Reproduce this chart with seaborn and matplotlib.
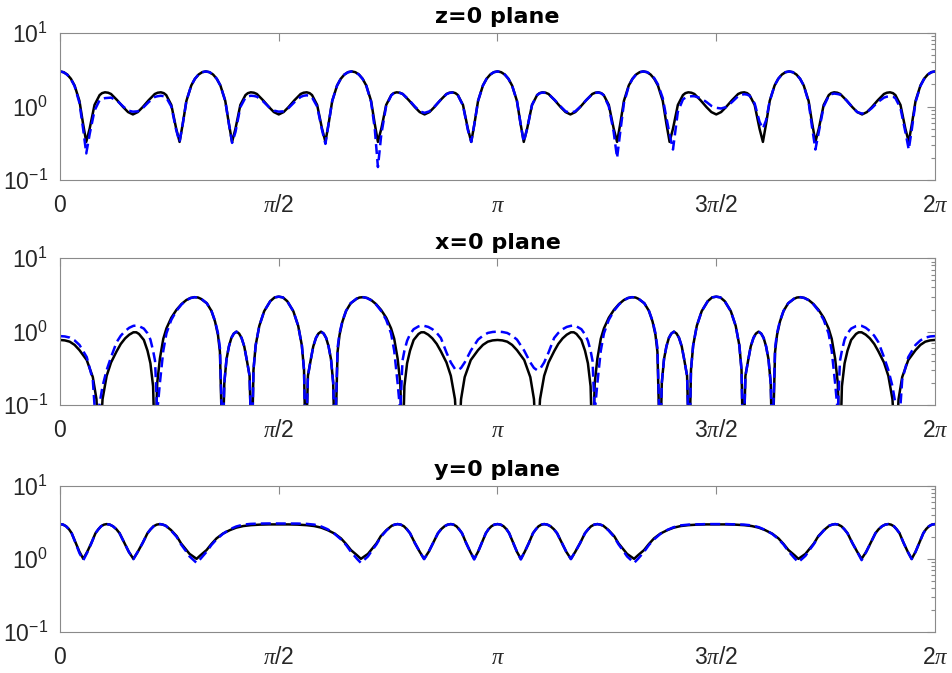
import numpy as np
import pandas as pd
import matplotlib
matplotlib.use("Agg")
import matplotlib.pyplot as plt
import seaborn as sns
from matplotlib.ticker import FixedLocator, LogLocator, NullFormatter, LogFormatterSciNotation

# ---------------- data (angles in degrees) ----------------
z0_deg = [0, 1.5, 3, 4.5, 6, 8, 9.5, 10.8, 12.2, 14.2, 16.3, 17.3, 18.5, 19.8, 21, 23.5, 26, 28, 30, 32, 34, 36.5, 39, 40.2, 41.5, 42.7, 43.7, 45.8, 47.8, 49.2, 50.5, 52, 54, 55.5, 57, 58.5,
          60, 61.5, 63, 64.5, 66, 68, 69.5, 70.8, 72.2, 74.2, 76.3, 77.3, 78.5, 79.8, 81, 83.5, 86, 88, 90, 92, 94, 96.5, 99, 100.2, 101.5, 102.7, 103.7, 105.8, 107.8, 109.2, 110.5, 112, 114, 115.5, 117, 118.5,
          120, 121.5, 123, 124.5, 126, 128, 129.5, 130.8, 132.2, 134.2, 136.3, 137.3, 138.5, 139.8, 141, 143.5, 146, 148, 150, 152, 154, 156.5, 159, 160.2, 161.5, 162.7, 163.7, 165.8, 167.8, 169.2, 170.5, 172, 174, 175.5, 177, 178.5,
          180, 181.5, 183, 184.5, 186, 188, 189.5, 190.8, 192.2, 194.2, 196.3, 197.3, 198.5, 199.8, 201, 203.5, 206, 208, 210, 212, 214, 216.5, 219, 220.2, 221.5, 222.7, 223.7, 225.8, 227.8, 229.2, 230.5, 232, 234, 235.5, 237, 238.5,
          240, 241.5, 243, 244.5, 246, 248, 249.5, 250.8, 252.2, 254.2, 256.3, 257.3, 258.5, 259.8, 261, 263.5, 266, 268, 270, 272, 274, 276.5, 279, 280.2, 281.5, 282.7, 283.7, 285.8, 287.8, 289.2, 290.5, 292, 294, 295.5, 297, 298.5,
          300, 301.5, 303, 304.5, 306, 308, 309.5, 310.8, 312.2, 314.2, 316.3, 317.3, 318.5, 319.8, 321, 323.5, 326, 328, 330, 332, 334, 336.5, 339, 340.2, 341.5, 342.7, 343.7, 345.8, 347.8, 349.2, 350.5, 352, 354, 355.5, 357, 358.5, 360]
z0_black = [3.0, 2.93, 2.72, 2.38, 1.93, 1.19, 0.58, 0.33, 0.5, 1.05, 1.43, 1.52, 1.56, 1.54, 1.48, 1.22, 0.98, 0.84, 0.78, 0.84, 0.98, 1.22, 1.48, 1.54, 1.56, 1.52, 1.43, 1.05, 0.5, 0.33, 0.58, 1.19, 1.93, 2.38, 2.72, 2.93,
            3.0, 2.93, 2.72, 2.38, 1.93, 1.19, 0.58, 0.33, 0.5, 1.05, 1.43, 1.52, 1.56, 1.54, 1.48, 1.22, 0.98, 0.84, 0.78, 0.84, 0.98, 1.22, 1.48, 1.54, 1.56, 1.52, 1.43, 1.05, 0.5, 0.33, 0.58, 1.19, 1.93, 2.38, 2.72, 2.93,
            3.0, 2.93, 2.72, 2.38, 1.93, 1.19, 0.58, 0.33, 0.5, 1.05, 1.43, 1.52, 1.56, 1.54, 1.48, 1.22, 0.98, 0.84, 0.78, 0.84, 0.98, 1.22, 1.48, 1.54, 1.56, 1.52, 1.43, 1.05, 0.5, 0.33, 0.58, 1.19, 1.93, 2.38, 2.72, 2.93,
            3.0, 2.93, 2.72, 2.38, 1.93, 1.19, 0.58, 0.33, 0.5, 1.05, 1.43, 1.52, 1.56, 1.54, 1.48, 1.22, 0.98, 0.84, 0.78, 0.84, 0.98, 1.22, 1.48, 1.54, 1.56, 1.52, 1.43, 1.05, 0.5, 0.33, 0.58, 1.19, 1.93, 2.38, 2.72, 2.93,
            3.0, 2.93, 2.72, 2.38, 1.93, 1.19, 0.58, 0.33, 0.5, 1.05, 1.43, 1.52, 1.56, 1.54, 1.48, 1.22, 0.98, 0.84, 0.78, 0.84, 0.98, 1.22, 1.48, 1.54, 1.56, 1.52, 1.43, 1.05, 0.5, 0.33, 0.58, 1.19, 1.93, 2.38, 2.72, 2.93,
            3.0, 2.93, 2.72, 2.38, 1.93, 1.19, 0.58, 0.33, 0.5, 1.05, 1.43, 1.52, 1.56, 1.54, 1.48, 1.22, 0.98, 0.84, 0.78, 0.84, 0.98, 1.22, 1.48, 1.54, 1.56, 1.52, 1.43, 1.05, 0.5, 0.33, 0.58, 1.19, 1.93, 2.38, 2.72, 2.93, 3.0]
z0_blue = [3.0, 2.92, 2.7, 2.35, 1.9, 1.12, 0.5, 0.23, 0.42, 0.88, 1.22, 1.27, 1.3, 1.31, 1.32, 1.2, 1.0, 0.88, 0.85, 0.86, 0.95, 1.15, 1.35, 1.38, 1.4, 1.38, 1.33, 1.0, 0.48, 0.33, 0.58, 1.19, 1.93, 2.38, 2.72, 2.93,
           3.0, 2.93, 2.72, 2.38, 1.93, 1.19, 0.58, 0.32, 0.45, 0.98, 1.32, 1.37, 1.4, 1.39, 1.36, 1.18, 0.98, 0.88, 0.85, 0.86, 0.95, 1.15, 1.35, 1.4, 1.42, 1.4, 1.33, 1.0, 0.48, 0.31, 0.58, 1.19, 1.93, 2.38, 2.72, 2.93,
           3.0, 2.93, 2.72, 2.38, 1.93, 1.15, 0.5, 0.15, 0.42, 1.02, 1.42, 1.51, 1.55, 1.53, 1.48, 1.24, 1.0, 0.86, 0.82, 0.86, 0.99, 1.22, 1.47, 1.53, 1.55, 1.51, 1.42, 1.03, 0.48, 0.33, 0.58, 1.19, 1.93, 2.38, 2.72, 2.93,
           3.0, 2.93, 2.72, 2.38, 1.93, 1.19, 0.58, 0.33, 0.5, 1.05, 1.43, 1.51, 1.55, 1.53, 1.47, 1.23, 1.0, 0.86, 0.82, 0.86, 0.99, 1.22, 1.47, 1.53, 1.55, 1.51, 1.42, 1.0, 0.45, 0.2, 0.45, 1.1, 1.9, 2.36, 2.72, 2.93,
           3.0, 2.94, 2.75, 2.43, 2.0, 1.3, 0.7, 0.42, 0.26, 0.85, 1.25, 1.32, 1.36, 1.38, 1.38, 1.3, 1.15, 1.02, 0.96, 0.94, 0.98, 1.15, 1.38, 1.44, 1.47, 1.45, 1.4, 1.1, 0.62, 0.5, 0.65, 1.19, 1.93, 2.38, 2.72, 2.93,
           3.0, 2.93, 2.72, 2.38, 1.93, 1.15, 0.5, 0.26, 0.45, 1.0, 1.4, 1.47, 1.5, 1.48, 1.45, 1.22, 0.98, 0.84, 0.8, 0.84, 0.95, 1.15, 1.32, 1.36, 1.38, 1.36, 1.3, 0.95, 0.45, 0.26, 0.5, 1.15, 1.9, 2.36, 2.72, 2.93, 3.0]

x0_deg = [0, 2, 4, 6, 8, 11, 13.5, 15, 16.2, 17.5, 19.2, 21, 23.3, 25, 26.8, 28.5, 30.2, 31.4, 32.5, 34.5, 36, 37.2, 38.3, 39.1, 40, 41.1, 42.5, 43.8, 45.8, 47.9, 50, 52, 53.7, 55.3, 56.8, 58, 60.4, 62.3, 63.8, 65, 65.8, 66.9, 67.6, 68.5, 69.5, 70.5, 71.5, 72.6, 73.7, 74.7, 75.8, 76.8, 78, 78.9, 79.6, 80.5, 82, 84, 86.5, 88.3, 90,
          91.7, 93.5, 96, 98, 99.5, 100.4, 101.1, 102, 103.2, 104.2, 105.3, 106.3, 107.4, 108.5, 109.5, 110.5, 111.5, 112.4, 113.1, 114.2, 115, 116.2, 117.7, 119.6, 122, 123.2, 124.7, 126.3, 128, 130, 132.1, 134.2, 136.2, 137.5, 138.9, 140, 140.9, 141.7, 142.8, 144, 145.5, 147.5, 148.6, 149.8, 151.5, 153.2, 155, 156.7, 159, 160.8, 162.5, 163.8, 165, 166.5, 169, 172, 174, 176, 178, 180,
          182, 184, 186, 188, 191, 193.5, 195, 196.2, 197.5, 199.2, 201, 203.3, 205, 206.8, 208.5, 210.2, 211.4, 212.5, 214.5, 216, 217.2, 218.3, 219.1, 220, 221.1, 222.5, 223.8, 225.8, 227.9, 230, 232, 233.7, 235.3, 236.8, 238, 240.4, 242.3, 243.8, 245, 245.8, 246.9, 247.6, 248.5, 249.5, 250.5, 251.5, 252.6, 253.7, 254.7, 255.8, 256.8, 258, 258.9, 259.6, 260.5, 262, 264, 266.5, 268.3, 270,
          271.7, 273.5, 276, 278, 279.5, 280.4, 281.1, 282, 283.2, 284.2, 285.3, 286.3, 287.4, 288.5, 289.5, 290.5, 291.5, 292.4, 293.1, 294.2, 295, 296.2, 297.7, 299.6, 302, 303.2, 304.7, 306.3, 308, 310, 312.1, 314.2, 316.2, 317.5, 318.9, 320, 320.9, 321.7, 322.8, 324, 325.5, 327.5, 328.6, 329.8, 331.5, 333.2, 335, 336.7, 339, 340.8, 342.5, 343.8, 345, 346.5, 349, 352, 354, 356, 358, 360]
x0_black = [0.77, 0.76, 0.73, 0.66, 0.56, 0.41, 0.24, 0.12, 0.02, 0.12, 0.25, 0.38, 0.54, 0.68, 0.81, 0.91, 0.98, 0.98, 0.93, 0.77, 0.55, 0.37, 0.18, 0.02, 0.2, 0.43, 0.8, 1.11, 1.55, 1.98, 2.38, 2.7, 2.88, 2.95, 2.92, 2.8, 2.44, 1.92, 1.37, 0.9, 0.53, 0.02, 0.2, 0.42, 0.63, 0.82, 0.94, 1.0, 0.94, 0.82, 0.63, 0.42, 0.25, 0.02, 0.3, 0.65, 1.2, 1.9, 2.6, 2.93, 3.0,
            2.93, 2.6, 1.9, 1.2, 0.65, 0.3, 0.02, 0.25, 0.42, 0.63, 0.82, 0.94, 1.0, 0.94, 0.82, 0.63, 0.42, 0.2, 0.02, 0.53, 0.9, 1.37, 1.92, 2.44, 2.8, 2.92, 2.95, 2.88, 2.7, 2.38, 1.98, 1.55, 1.11, 0.8, 0.43, 0.2, 0.02, 0.18, 0.37, 0.55, 0.77, 0.93, 0.98, 0.98, 0.91, 0.81, 0.68, 0.54, 0.38, 0.25, 0.12, 0.02, 0.12, 0.24, 0.41, 0.56, 0.66, 0.73, 0.76, 0.77,
            0.76, 0.73, 0.66, 0.56, 0.41, 0.24, 0.12, 0.02, 0.12, 0.25, 0.38, 0.54, 0.68, 0.81, 0.91, 0.98, 0.98, 0.93, 0.77, 0.55, 0.37, 0.18, 0.02, 0.2, 0.43, 0.8, 1.11, 1.55, 1.98, 2.38, 2.7, 2.88, 2.95, 2.92, 2.8, 2.44, 1.92, 1.37, 0.9, 0.53, 0.02, 0.2, 0.42, 0.63, 0.82, 0.94, 1.0, 0.94, 0.82, 0.63, 0.42, 0.25, 0.02, 0.3, 0.65, 1.2, 1.9, 2.6, 2.93, 3.0,
            2.93, 2.6, 1.9, 1.2, 0.65, 0.3, 0.02, 0.25, 0.42, 0.63, 0.82, 0.94, 1.0, 0.94, 0.82, 0.63, 0.42, 0.2, 0.02, 0.53, 0.9, 1.37, 1.92, 2.44, 2.8, 2.92, 2.95, 2.88, 2.7, 2.38, 1.98, 1.55, 1.11, 0.8, 0.43, 0.2, 0.02, 0.18, 0.37, 0.55, 0.77, 0.93, 0.98, 0.98, 0.91, 0.81, 0.68, 0.54, 0.38, 0.25, 0.12, 0.02, 0.12, 0.24, 0.41, 0.56, 0.66, 0.73, 0.76, 0.77]
x0_blue = [0.87, 0.86, 0.83, 0.76, 0.66, 0.45, 0.22, 0.04, 0.1, 0.18, 0.3, 0.45, 0.72, 0.88, 1.02, 1.13, 1.2, 1.21, 1.19, 1.1, 0.95, 0.78, 0.55, 0.4, 0.08, 0.2, 0.55, 0.95, 1.45, 1.92, 2.35, 2.68, 2.87, 2.95, 2.93, 2.82, 2.44, 1.92, 1.4, 0.95, 0.6, 0.03, 0.2, 0.42, 0.63, 0.82, 0.94, 1.0, 0.94, 0.82, 0.63, 0.42, 0.25, 0.02, 0.3, 0.65, 1.2, 1.9, 2.6, 2.93, 3.0,
           2.93, 2.6, 1.9, 1.2, 0.65, 0.3, 0.02, 0.25, 0.42, 0.63, 0.82, 0.94, 1.0, 0.94, 0.82, 0.63, 0.42, 0.2, 0.03, 0.6, 0.95, 1.4, 1.92, 2.44, 2.82, 2.93, 2.95, 2.87, 2.68, 2.35, 1.92, 1.45, 0.95, 0.55, 0.2, 0.08, 0.4, 0.55, 0.75, 0.92, 1.08, 1.18, 1.21, 1.2, 1.16, 1.08, 0.96, 0.82, 0.52, 0.38, 0.31, 0.3, 0.32, 0.38, 0.55, 0.78, 0.88, 0.96, 0.99, 1.0,
           0.99, 0.96, 0.88, 0.78, 0.55, 0.38, 0.32, 0.3, 0.31, 0.38, 0.52, 0.82, 0.96, 1.08, 1.16, 1.2, 1.21, 1.18, 1.08, 0.92, 0.75, 0.55, 0.4, 0.08, 0.2, 0.55, 0.95, 1.45, 1.92, 2.35, 2.68, 2.87, 2.95, 2.93, 2.82, 2.44, 1.92, 1.4, 0.95, 0.6, 0.03, 0.2, 0.42, 0.63, 0.82, 0.94, 1.0, 0.94, 0.82, 0.63, 0.42, 0.25, 0.02, 0.3, 0.65, 1.2, 1.9, 2.6, 2.93, 3.0,
           2.93, 2.6, 1.9, 1.2, 0.65, 0.3, 0.02, 0.25, 0.42, 0.63, 0.82, 0.94, 1.0, 0.94, 0.82, 0.63, 0.42, 0.2, 0.03, 0.6, 0.95, 1.4, 1.92, 2.44, 2.82, 2.93, 2.95, 2.87, 2.68, 2.35, 1.92, 1.45, 0.95, 0.55, 0.2, 0.08, 0.4, 0.55, 0.78, 0.95, 1.1, 1.19, 1.21, 1.2, 1.13, 1.02, 0.88, 0.72, 0.45, 0.3, 0.18, 0.1, 0.04, 0.22, 0.45, 0.66, 0.76, 0.83, 0.86, 0.87]

y0_deg = [0, 1.3, 2.5, 3.7, 4.8, 6.5, 8, 9.6, 11.2, 12.9, 14.6, 15.8, 16.9, 18.1, 19.2, 20.5, 21.8, 23.2, 24.5, 26.5, 28.3, 30.2, 32, 34, 36, 37.3, 38.5, 39.8, 41.1, 42.3, 43.5, 45.7, 48, 49.8, 51.8, 53.3, 56.2, 57.8, 60.3, 62.3, 64.4, 67, 69.9, 72.5, 75.4, 78.5, 82.3, 86, 90,
          94, 97.7, 101.5, 104.6, 107.5, 110.1, 113, 115.6, 117.7, 119.7, 122.2, 123.8, 126.7, 128.2, 130.2, 132, 134.3, 136.5, 137.7, 138.9, 140.2, 141.5, 142.7, 144, 146, 148, 149.8, 151.7, 153.5, 155.5, 156.8, 158.2, 159.5, 160.8, 161.9, 163.1, 164.2, 165.4, 167.1, 168.8, 170.4, 172, 173.5, 175.2, 176.3, 177.5, 178.7, 180,
          181.3, 182.5, 183.7, 184.8, 186.5, 188, 189.6, 191.2, 192.9, 194.6, 195.8, 196.9, 198.1, 199.2, 200.5, 201.8, 203.2, 204.5, 206.5, 208.3, 210.2, 212, 214, 216, 217.3, 218.5, 219.8, 221.1, 222.3, 223.5, 225.7, 228, 229.8, 231.8, 233.3, 236.2, 237.8, 240.3, 242.3, 244.4, 247, 249.9, 252.5, 255.4, 258.5, 262.3, 266, 270,
          274, 277.7, 281.5, 284.6, 287.5, 290.1, 293, 295.6, 297.7, 299.7, 302.2, 303.8, 306.7, 308.2, 310.2, 312, 314.3, 316.5, 317.7, 318.9, 320.2, 321.5, 322.7, 324, 326, 328, 329.8, 331.7, 333.5, 335.5, 336.8, 338.2, 339.5, 340.8, 341.9, 343.1, 344.2, 345.4, 347.1, 348.8, 350.4, 352, 353.5, 355.2, 356.3, 357.5, 358.7, 360]
y0_black = [3.0, 2.95, 2.8, 2.55, 2.25, 1.65, 1.25, 1.0, 1.25, 1.65, 2.25, 2.55, 2.8, 2.95, 3.0, 2.95, 2.8, 2.55, 2.25, 1.65, 1.25, 1.0, 1.25, 1.65, 2.25, 2.55, 2.8, 2.95, 3.0, 2.95, 2.85, 2.48, 2.05, 1.63, 1.35, 1.17, 1.0, 1.12, 1.32, 1.6, 1.91, 2.22, 2.48, 2.68, 2.82, 2.9, 2.95, 2.97, 2.97,
            2.97, 2.95, 2.9, 2.82, 2.68, 2.48, 2.22, 1.91, 1.6, 1.32, 1.12, 1.0, 1.17, 1.35, 1.63, 2.05, 2.48, 2.85, 2.95, 3.0, 2.95, 2.8, 2.55, 2.25, 1.65, 1.25, 1.0, 1.25, 1.65, 2.25, 2.55, 2.8, 2.95, 3.0, 2.95, 2.8, 2.55, 2.25, 1.65, 1.25, 1.0, 1.25, 1.65, 2.25, 2.55, 2.8, 2.95, 3.0,
            2.95, 2.8, 2.55, 2.25, 1.65, 1.25, 1.0, 1.25, 1.65, 2.25, 2.55, 2.8, 2.95, 3.0, 2.95, 2.8, 2.55, 2.25, 1.65, 1.25, 1.0, 1.25, 1.65, 2.25, 2.55, 2.8, 2.95, 3.0, 2.95, 2.85, 2.48, 2.05, 1.63, 1.35, 1.17, 1.0, 1.12, 1.32, 1.6, 1.91, 2.22, 2.48, 2.68, 2.82, 2.9, 2.95, 2.97, 2.97,
            2.97, 2.95, 2.9, 2.82, 2.68, 2.48, 2.22, 1.91, 1.6, 1.32, 1.12, 1.0, 1.17, 1.35, 1.63, 2.05, 2.48, 2.85, 2.95, 3.0, 2.95, 2.8, 2.55, 2.25, 1.65, 1.25, 1.0, 1.25, 1.65, 2.25, 2.55, 2.8, 2.95, 3.0, 2.95, 2.8, 2.55, 2.25, 1.65, 1.25, 1.0, 1.25, 1.65, 2.25, 2.55, 2.8, 2.95, 3.0]
y0_blue = [3.0, 2.95, 2.8, 2.55, 2.25, 1.62, 1.2, 0.96, 1.22, 1.63, 2.25, 2.55, 2.8, 2.95, 3.0, 2.95, 2.8, 2.55, 2.25, 1.65, 1.25, 0.99, 1.25, 1.65, 2.25, 2.55, 2.8, 2.95, 3.0, 2.95, 2.85, 2.45, 2.0, 1.58, 1.28, 1.08, 0.88, 1.0, 1.25, 1.55, 1.85, 2.2, 2.55, 2.78, 2.95, 3.02, 3.05, 3.06, 3.06,
           3.06, 3.05, 3.02, 2.95, 2.78, 2.55, 2.2, 1.85, 1.55, 1.25, 1.0, 0.88, 1.08, 1.28, 1.58, 2.0, 2.45, 2.85, 2.95, 3.0, 2.95, 2.8, 2.55, 2.25, 1.65, 1.25, 0.99, 1.25, 1.65, 2.25, 2.55, 2.8, 2.95, 3.0, 2.95, 2.8, 2.55, 2.25, 1.65, 1.25, 0.98, 1.25, 1.65, 2.25, 2.55, 2.8, 2.95, 3.0,
           2.95, 2.8, 2.55, 2.25, 1.65, 1.25, 0.98, 1.25, 1.65, 2.25, 2.55, 2.8, 2.95, 3.0, 2.95, 2.8, 2.55, 2.25, 1.65, 1.25, 0.99, 1.25, 1.65, 2.25, 2.55, 2.8, 2.95, 3.0, 2.95, 2.85, 2.45, 2.0, 1.58, 1.28, 1.08, 0.88, 1.0, 1.25, 1.55, 1.85, 2.2, 2.5, 2.72, 2.88, 2.95, 2.98, 3.0, 3.0,
           3.0, 2.98, 2.95, 2.88, 2.72, 2.5, 2.2, 1.87, 1.57, 1.27, 1.02, 0.9, 1.1, 1.3, 1.6, 2.02, 2.46, 2.85, 2.95, 3.0, 2.95, 2.8, 2.55, 2.25, 1.65, 1.25, 0.96, 1.25, 1.65, 2.25, 2.55, 2.8, 2.95, 3.0, 2.95, 2.8, 2.55, 2.25, 1.65, 1.25, 0.99, 1.25, 1.65, 2.25, 2.55, 2.8, 2.95, 3.0]

titles = ["z=0 plane", "x=0 plane", "y=0 plane"]
xtick_labels = [r"$0$", r"$\pi$/2", r"$\pi$", r"3$\pi$/2", r"2$\pi$"]

# ---------------- style ----------------
sns.set_theme(style="white")
plt.rcParams["font.family"] = ["Liberation Sans", "DejaVu Sans"]
plt.rcParams["mathtext.fontset"] = "custom"
plt.rcParams["mathtext.rm"] = "Liberation Sans"
plt.rcParams["mathtext.it"] = "Liberation Serif:italic"
plt.rcParams["mathtext.bf"] = "Liberation Sans:bold"
plt.rcParams["lines.solid_joinstyle"] = "round"
plt.rcParams["lines.dash_joinstyle"] = "round"

spine_c = "#8a8a8a"
label_c = "#262626"

fig = plt.figure(figsize=(9.53, 6.73), dpi=100)
W = 953.0
H = 673.0
boxes = [(60, 33, 180), (60, 258.3, 405), (60, 486, 631.7)]

panels = [(z0_deg, z0_black, z0_blue), (x0_deg, x0_black, x0_blue), (y0_deg, y0_black, y0_blue)]

for (left, top, bottom), (deg, blk, blu), title in zip(boxes, panels, titles):
    ax = fig.add_axes([left / W, 1 - bottom / H, 875 / W, (bottom - top) / H])
    df = pd.DataFrame({"angle": np.deg2rad(np.array(deg, dtype=float)),
                       "black": blk, "blue": blu})
    sns.lineplot(data=df, x="angle", y="black", ax=ax, color="black", linewidth=1.8,
                 estimator=None, sort=False, errorbar=None)
    sns.lineplot(data=df, x="angle", y="blue", ax=ax, color="#0000ff", linewidth=1.8,
                 linestyle=(0, (4.0, 2.0)), estimator=None, sort=False, errorbar=None)
    ax.set_yscale("log")
    ax.set_xlim(0, 2 * np.pi)
    ax.set_ylim(0.1, 10)
    ax.set_xlabel("")
    ax.set_ylabel("")
    ax.set_xticks([0, np.pi / 2, np.pi, 3 * np.pi / 2, 2 * np.pi])
    ax.set_xticklabels(xtick_labels, va="baseline")
    ax.yaxis.set_major_locator(FixedLocator([0.1, 1, 10]))
    ax.yaxis.set_major_formatter(LogFormatterSciNotation())
    ax.yaxis.set_minor_locator(LogLocator(base=10, subs=np.arange(2, 10)))
    ax.yaxis.set_minor_formatter(NullFormatter())
    ax.tick_params(which="both", direction="in", top=True, right=True,
                   color=spine_c, width=0.8)
    ax.tick_params(which="major", length=6, labelsize=16.5, labelcolor=label_c)
    ax.tick_params(which="minor", length=3)
    ax.tick_params(axis="x", which="major", pad=23.0)
    ax.tick_params(axis="y", which="major", pad=8.5)
    ax.tick_params(axis="x", which="minor", bottom=False, top=False)
    for s in ax.spines.values():
        s.set_color(spine_c)
        s.set_linewidth(0.8)
    ax.set_title(title, fontsize=16, fontweight="bold", family="DejaVu Sans",
                 color="black", pad=7.0)

fig.savefig("out.png", dpi=100)
